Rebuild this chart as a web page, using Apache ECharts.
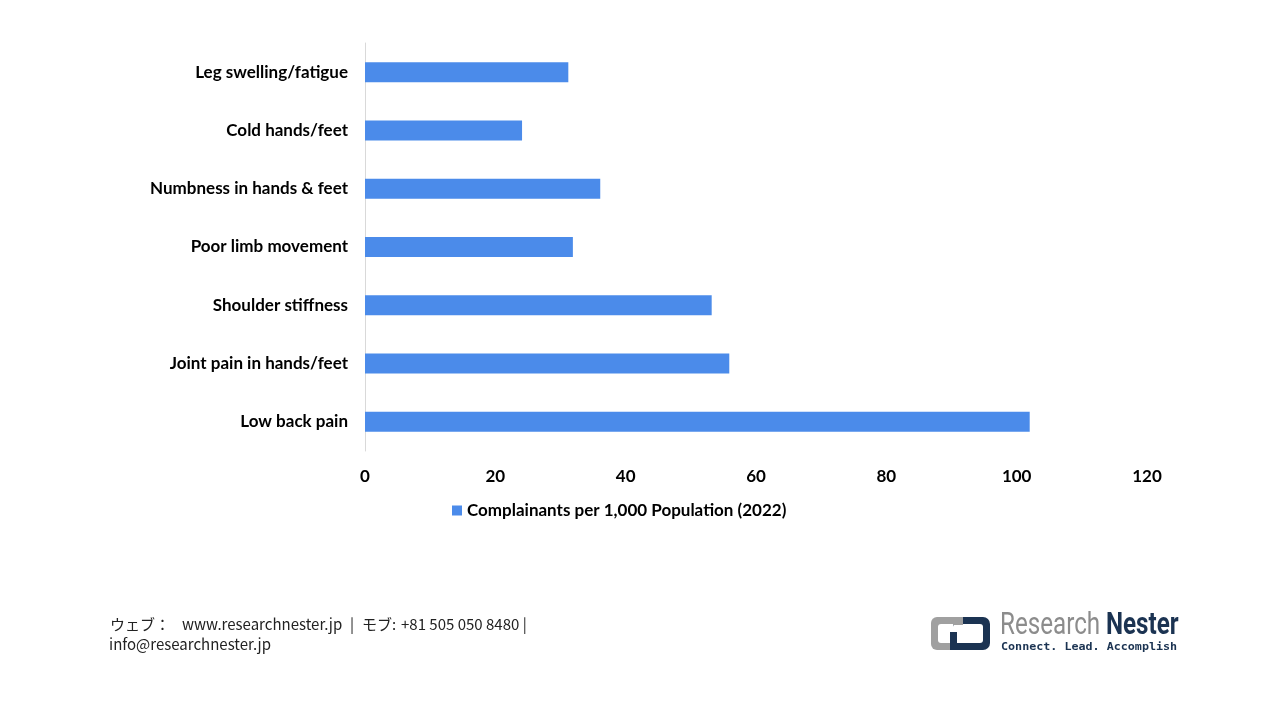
<!DOCTYPE html>
<html><head><meta charset="utf-8">
<script src="https://cdn.jsdelivr.net/npm/echarts@6/dist/echarts.min.js"></script>
<style>html,body{margin:0;padding:0;background:#fff}#c{width:1280px;height:720px}</style>
</head><body><div id="c"></div>
<script>
var categories = ["Low back pain","Joint pain in hands/feet","Shoulder stiffness","Poor limb movement","Numbness in hands & feet","Cold hands/feet","Leg swelling/fatigue"];
var values = [102.0, 55.9, 53.2, 31.9, 36.1, 24.1, 31.2];
var seriesName = "Complainants per 1,000 Population (2022)";
var xTicks = {min:0, max:120, interval:20};

var chart = echarts.init(document.getElementById('c'));
var F = 'Lato, "Open Sans", sans-serif';
var FT = '"Noto Sans CJK JP", sans-serif';
function ft(x, y, s){ return {type:'text', x:x, y:y, style:{text:s, fontFamily:FT, fontSize:15, fill:'#222'}}; }
chart.setOption({
  animation:false,
  grid:{left:365, right:133, top:43, bottom:269, containLabel:false},
  legend:{show:true, top:497, left:447, data:[seriesName], icon:'rect', itemWidth:10, itemHeight:10, itemGap:6,
    textStyle:{fontFamily:F, fontWeight:'bold', fontSize:17, color:'#000'}},
  xAxis:{type:'value', min:xTicks.min, max:xTicks.max, interval:xTicks.interval,
    axisLine:{show:false}, axisTick:{show:false}, splitLine:{show:false},
    axisLabel:{margin:17, fontFamily:F, fontWeight:'bold', fontSize:17, color:'#000'}},
  yAxis:{type:'category', data:categories,
    axisLine:{show:true, lineStyle:{color:'#d9d9d9', width:1}}, axisTick:{show:false},
    axisLabel:{margin:17, fontFamily:F, fontWeight:'bold', fontSize:17, color:'#000'}},
  series:[{name:seriesName, type:'bar', data:values, barWidth:20, itemStyle:{color:'#4b8bea'}}],
  graphic:[
    ft(110, 617, 'ウェブ：'),
    ft(182, 617, 'www.researchnester.jp'),
    ft(350, 617, '|'),
    ft(362, 617, 'モブ:'),
    ft(401, 617, '+81 505 050 8480 |'),
    ft(109, 637, 'info@researchnester.jp'),
    // logo icon
    {type:'rect', shape:{x:931, y:617, width:30, height:33, r:6}, style:{fill:'#a0a0a0'}},
    {type:'rect', shape:{x:938, y:624, width:23, height:19, r:3}, style:{fill:'#fff'}},
    {type:'rect', shape:{x:953, y:617, width:37, height:33, r:7}, style:{fill:'#1b3352'}},
    {type:'rect', shape:{x:953, y:624, width:30, height:19, r:3}, style:{fill:'#fff'}},
    {type:'rect', shape:{x:953, y:617, width:10, height:8}, style:{fill:'#a0a0a0'}},
    {type:'rect', shape:{x:950, y:632, width:10, height:18}, style:{fill:'#1b3352'}},
    {type:'rect', shape:{x:957, y:632, width:3, height:11}, style:{fill:'#fff'}},
    {type:'text', x:1000, y:611, scaleX:0.78, style:{text:'Research', fontFamily:'Roboto, sans-serif', fontSize:31, fill:'#8c8c8c'}},
    {type:'text', x:1106, y:611, scaleX:0.78, style:{text:'Nester', fontFamily:'Roboto, sans-serif', fontWeight:'bold', fontSize:31, fill:'#1b3352'}},
    {type:'text', x:1001, y:642, scaleX:1.17, style:{text:'Connect. Lead. Accomplish', fontFamily:'"DejaVu Sans Mono", monospace', fontWeight:'bold', fontSize:10, fill:'#1b3352'}}
  ]
});
</script></body></html>
